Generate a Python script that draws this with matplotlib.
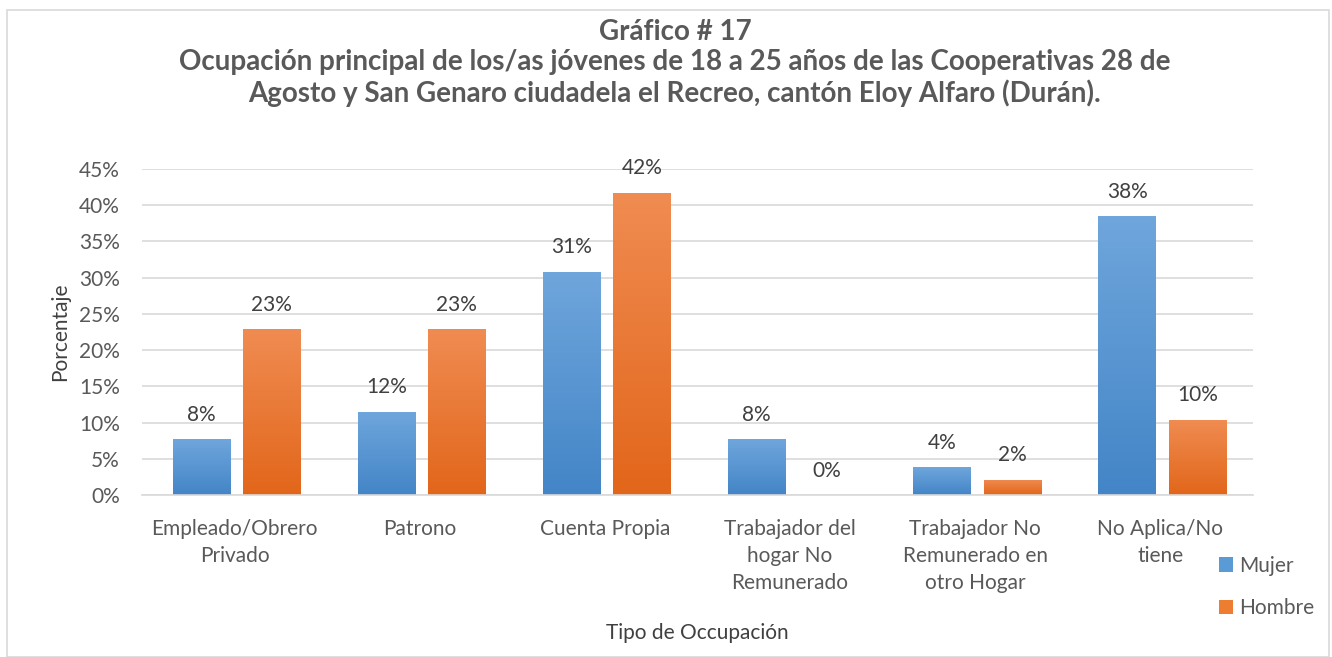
import numpy as np
import matplotlib.pyplot as plt
from matplotlib.colors import LinearSegmentedColormap
from matplotlib.patches import Rectangle

plt.rcParams['font.family'] = ['Lato', 'DejaVu Sans']

# datos del gráfico
categorias = ["Empleado/Obrero\nPrivado", "Patrono", "Cuenta Propia",
              "Trabajador del\nhogar No\nRemunerado", "Trabajador No\nRemunerado en\notro Hogar",
              "No Aplica/No\ntiene"]
mujer = [7.7, 11.5, 30.8, 7.7, 3.8, 38.5]
hombre = [22.9, 22.9, 41.7, 0.0, 2.1, 10.4]
series = ["Mujer", "Hombre"]

azul = LinearSegmentedColormap.from_list("az", ["#4385c7", "#6fa6dc"])
naranja = LinearSegmentedColormap.from_list("na", ["#e2661a", "#f08c52"])

fig = plt.figure(figsize=(13.32, 6.57), dpi=100)
ax = fig.add_axes([142/1332, 1 - 495/657, 1111/1332, 326/657])

x = np.arange(len(categorias))
ancho = 0.31
grad = np.linspace(0, 1, 256).reshape(-1, 1)

for vals, off, cmap, nombre, col in [(mujer, -0.18, azul, series[0], "#5b9bd5"),
                                     (hombre, 0.2, naranja, series[1], "#ed7d31")]:
    barras = ax.bar(x + off, vals, ancho, color=col, label=nombre, zorder=2)
    for b, v in zip(barras, vals):
        b.set_facecolor("none")
        if v > 0:
            im = ax.imshow(grad, cmap=cmap, origin="lower", aspect="auto",
                           extent=[b.get_x(), b.get_x() + b.get_width(), 0, v], zorder=2)
            im.set_clip_path(b)
        ax.text(b.get_x() + b.get_width() / 2, v + 2.0, f"{v:.0f}%",
                ha="center", va="bottom", fontsize=15, color="#404040")

ax.set_xlim(-0.5, len(categorias) - 0.5)
ax.set_ylim(0, 45)
ax.set_yticks(np.arange(0, 46, 5))
ax.set_yticklabels([f"{t}%" for t in range(0, 46, 5)])
ax.set_xticks(x)
ax.set_xticklabels(categorias, linespacing=1.45)
ax.tick_params(length=0, labelsize=15, colors="#595959")
ax.tick_params(axis="x", pad=17)
ax.tick_params(axis="y", pad=16)
ax.yaxis.grid(True, color="#d9d9d9", linewidth=1.2, zorder=0)
ax.set_axisbelow(True)
for s in ["top", "right", "left"]:
    ax.spines[s].set_visible(False)
ax.spines["bottom"].set_color("#d9d9d9")
ax.spines["bottom"].set_linewidth(1.2)

ax.set_ylabel("Porcentaje", fontsize=15, color="#404040", labelpad=6)
fig.text(697/1332, 1 - 633/657, "Tipo de Occupación", ha="center", va="center",
         fontsize=15, color="#404040")

fig.text(675/1332, 1 - 63/657,
         "Gráfico # 17\nOcupación principal de los/as jóvenes de 18 a 25 años de las Cooperativas 28 de\n"
         "Agosto y San Genaro ciudadela el Recreo, cantón Eloy Alfaro (Durán).",
         ha="center", va="center", fontsize=20, fontweight="bold", color="#595959",
         linespacing=1.2)

h = [Rectangle((0, 0), 1, 1, facecolor="#5b9bd5"), Rectangle((0, 0), 1, 1, facecolor="#ed7d31")]
fig.legend(h, series, loc="center left", bbox_to_anchor=(1200/1332, 1 - 587/657),
           frameon=False, fontsize=15, labelcolor="#595959", handlelength=0.7,
           handleheight=0.7, handletextpad=0.3, labelspacing=1.1)

fig.patches.append(Rectangle((7/1332, 0), 1322/1332, 1 - 10/657, transform=fig.transFigure,
                             fill=False, edgecolor="#d9d9d9", linewidth=1.2))

fig.savefig("out.png", dpi=100)
